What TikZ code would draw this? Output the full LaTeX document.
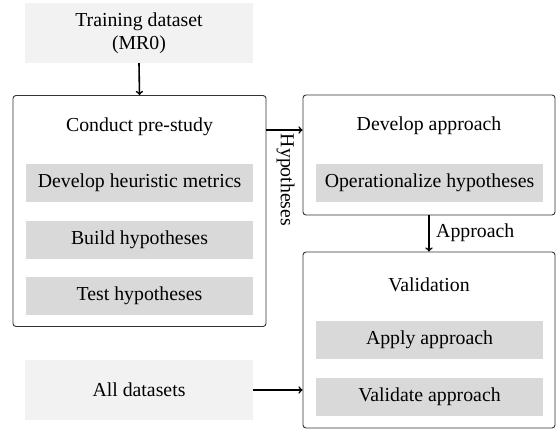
\documentclass[tikz,border=0pt]{standalone}
\usepackage{fontspec}
\setmainfont{Liberation Serif}
\usetikzlibrary{arrows}
\definecolor{srcfill}{HTML}{F2F2F2}
\definecolor{subfill}{HTML}{D9D9D9}
\definecolor{frameline}{HTML}{333333}
\tikzset{
  x=1pt, y=-1pt,
  every node/.style={font=\fontsize{19.8}{23}\selectfont, inner sep=0pt},
  source/.style={fill=srcfill, minimum width=228pt, minimum height=60pt, align=center},
  phase/.style={draw=frameline, line width=0.9pt, rounded corners=3pt, fill=white},
  sub/.style={fill=subfill, minimum width=227pt, minimum height=38pt},
  flow/.style={-to, line width=1.6pt},
}
\begin{document}
\begin{tikzpicture}
\useasboundingbox (0,0) rectangle (556,430);

% data sources
\node[source] (train) at (139,33) {Training dataset\\(MR0)};
\node[source] (all) at (139,390) {All datasets};

% phase frames
\node[phase, minimum width=253pt, minimum height=231pt] (pre) at (139.5,211) {};
\node[phase, minimum width=252pt, minimum height=120pt] (dev) at (429,155) {};
\node[phase, minimum width=252pt, minimum height=176pt] (val) at (429,340) {};

% phase titles
\node (preT) at (139.5,127) {Conduct pre-study};
\node (devT) at (429,126) {Develop approach};
\node (valT) at (429,285) {Validation};

% activities
\node[sub] (metrics) at (139.5,183) {Develop heuristic metrics};
\node[sub] (build) at (139.5,240) {Build hypotheses};
\node[sub] (test) at (139.5,296) {Test hypotheses};
\node[sub] (oper) at (429.5,183) {Operationalize hypotheses};
\node[sub] (apply) at (429.5,340) {Apply approach};
\node[sub] (valid) at (429.5,397) {Validate approach};

% flows
\draw[flow] (train.south) -- (pre.north);
\coordinate (hypA) at (pre.east |- 0,130);
\coordinate (hypB) at (dev.west |- 0,130);
\draw[flow] (hypA) -- (hypB);
\node[rotate=-90] (hypL) at (285.5,180) {Hypotheses};
\draw[flow] (dev.south) -- (val.north);
\node[anchor=west] (appL) at (436,233) {Approach};
\draw[flow] (all.east) -- (all.east -| val.west);
\end{tikzpicture}
\end{document}
